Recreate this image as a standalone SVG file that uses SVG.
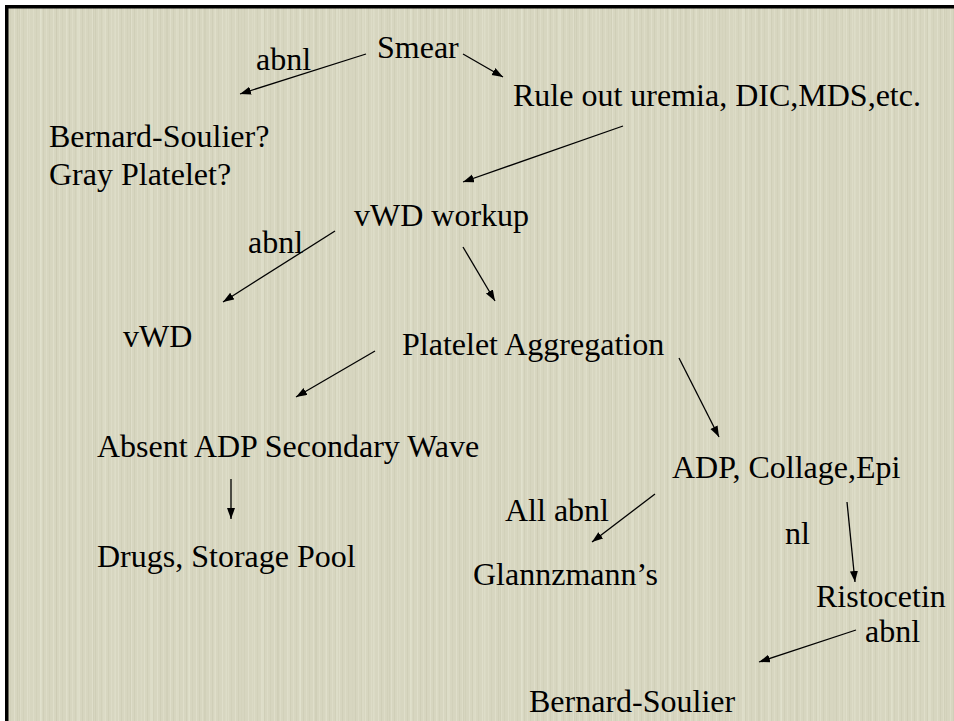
<svg xmlns="http://www.w3.org/2000/svg" width="954" height="721" viewBox="0 0 954 721">
<style>
  text { font-family: "Liberation Serif", "Times New Roman", serif; font-size: 32px; fill: #000; }
  .conn line { stroke: #000; stroke-width: 1.3; fill: none; marker-end: url(#ah); }
</style>
<defs>
  <marker id="ah" markerUnits="userSpaceOnUse" markerWidth="12" markerHeight="10" refX="11" refY="4" orient="auto">
    <path d="M0,0 L11,4 L0,8 Z" fill="#000"/>
  </marker>
  <pattern id="tex" width="13" height="60" patternUnits="userSpaceOnUse">
    <rect width="13" height="60" fill="#d7d6c0"/>
    <rect x="1" width="1" height="60" fill="#dfdeca"/>
    <rect x="4" width="1" height="60" fill="#d0cfb8"/>
    <rect x="7" width="1" height="60" fill="#dddcc7"/>
    <rect x="10" width="1" height="60" fill="#d2d1ba"/>
  </pattern>
  <pattern id="tex2" width="37" height="90" patternUnits="userSpaceOnUse">
    <rect x="3" width="2" height="90" fill="#e4e3d0" opacity="0.5"/>
    <rect x="19" width="1" height="90" fill="#cbcab2" opacity="0.5"/>
    <rect x="29" width="2" height="90" fill="#e2e1cd" opacity="0.4"/>
  </pattern>
</defs>
<rect width="954" height="721" fill="#ffffff"/>
<rect x="8" y="8" width="946" height="713" fill="url(#tex)"/>
<rect x="8" y="8" width="946" height="713" fill="url(#tex2)"/>
<rect x="5" y="5" width="949" height="3.5" fill="#000"/>
<rect x="5" y="5" width="3.5" height="716" fill="#000"/>

<g class="conn" id="connectors">
  <line x1="366" y1="54" x2="240" y2="94"/>
  <line x1="463" y1="54" x2="503" y2="77"/>
  <line x1="623" y1="126" x2="463" y2="182"/>
  <line x1="335" y1="231" x2="223" y2="302"/>
  <line x1="463" y1="247" x2="495" y2="301"/>
  <line x1="375" y1="351" x2="296" y2="397"/>
  <line x1="679" y1="358" x2="719" y2="437"/>
  <line x1="231" y1="479" x2="231" y2="519"/>
  <line x1="655" y1="494" x2="592" y2="542"/>
  <line x1="847" y1="502" x2="855" y2="582"/>
  <line x1="856" y1="630" x2="759" y2="662"/>
</g>

<g id="n-smear"><text x="377" y="58">Smear</text></g>
<g id="l-abnl1"><text x="256" y="70">abnl</text></g>
<g id="n-ruleout"><text x="513" y="106">Rule out uremia, DIC,MDS,etc.</text></g>
<g id="n-bs-gray"><text x="49" y="147">Bernard-Soulier?</text><text x="49" y="185">Gray Platelet?</text></g>
<g id="n-vwdworkup"><text x="354" y="226">vWD workup</text></g>
<g id="l-abnl2"><text x="248" y="253">abnl</text></g>
<g id="n-vwd"><text x="123" y="347">vWD</text></g>
<g id="n-platelet"><text x="402" y="355">Platelet Aggregation</text></g>
<g id="n-absent"><text x="97" y="457">Absent ADP Secondary Wave</text></g>
<g id="n-adp"><text x="672" y="478">ADP, Collage,Epi</text></g>
<g id="l-allabnl"><text x="505" y="521">All abnl</text></g>
<g id="l-nl"><text x="785" y="544">nl</text></g>
<g id="n-drugs"><text x="97" y="567">Drugs, Storage Pool</text></g>
<g id="n-glanz"><text x="473" y="585">Glannzmann’s</text></g>
<g id="n-risto"><text x="816" y="607">Ristocetin</text></g>
<g id="l-abnl3"><text x="865" y="642">abnl</text></g>
<g id="n-bs"><text x="529" y="712">Bernard-Soulier</text></g>
</svg>
